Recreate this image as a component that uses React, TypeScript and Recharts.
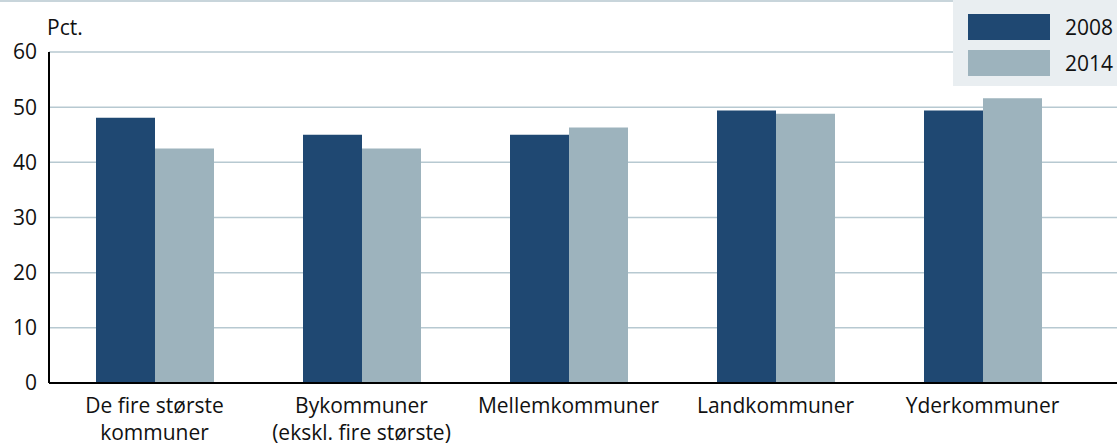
import React from 'react';
import { BarChart, Bar, XAxis, YAxis, CartesianGrid } from 'recharts';

const categories = [
  'De fire største\nkommuner',
  'Bykommuner\n(ekskl. fire største)',
  'Mellemkommuner',
  'Landkommuner',
  'Yderkommuner',
];
const values2008 = [48.1, 45.0, 45.0, 49.4, 49.4];
const values2014 = [42.5, 42.5, 46.3, 48.8, 51.6];
const yTicks = [0, 10, 20, 30, 40, 50, 60];
const seriesNames = ['2008', '2014'];

const DARK = '#1f4872';
const LIGHT = '#9db3bd';
const FONT = '"Open Sans", "Noto Sans", sans-serif';
const FS = 21;

const data = categories.map((name, i) => ({
  name,
  y2008: values2008[i],
  y2014: values2014[i],
}));

function CategoryTick(props: any) {
  const { x, y, payload } = props;
  const lines = String(payload.value).split('\n');
  return (
    <g transform={`translate(${x},${y})`}>
      {lines.map((line, i) => (
        <text
          key={i}
          x={0}
          y={i * 27}
          dy={22}
          textAnchor="middle"
          fill="#111"
          fontSize={FS}
          fontFamily={FONT}
        >
          {line}
        </text>
      ))}
    </g>
  );
}

function LegendBox() {
  const colors = [DARK, LIGHT];
  return (
    <div
      style={{
        position: 'absolute',
        top: 0,
        right: 0,
        background: '#e9eef1',
        width: 164,
        height: 86,
        paddingTop: 14,
        boxSizing: 'border-box',
      }}
    >
      {seriesNames.map((label, i) => (
        <div key={label} style={{ display: 'flex', alignItems: 'center', height: 26, marginBottom: 10 }}>
          <div style={{ width: 82, height: 26, background: colors[i], marginLeft: 15 }} />
          <span style={{ marginLeft: 15, fontSize: FS, fontFamily: FONT, color: '#111' }}>{label}</span>
        </div>
      ))}
    </div>
  );
}

export default function App() {
  return (
    <div style={{ position: 'absolute', left: 0, top: 0, width: 1117, height: 445, background: '#fff' }}>
      <div style={{ position: 'absolute', left: 0, top: 0, width: 1117, height: 2, background: '#c8d5db' }} />
      <BarChart
        width={1117}
        height={445}
        data={data}
        margin={{ top: 52, right: 0, left: 0, bottom: 0 }}
        barGap={0}
        barSize={59}
      >
        <CartesianGrid vertical={false} stroke="#b7c9d1" strokeWidth={1.5} />
        <XAxis
          dataKey="name"
          height={62}
          interval={0}
          tick={<CategoryTick />}
          tickLine={false}
          axisLine={{ stroke: '#000', strokeWidth: 2 }}
          padding={{ left: 2, right: 31 }}
        />
        <YAxis
          domain={[0, 60]}
          ticks={yTicks}
          width={49}
          tickLine={false}
          axisLine={{ stroke: '#000', strokeWidth: 2 }}
          tick={{ fill: '#111', fontSize: FS, fontFamily: FONT, dx: -4 }}
          label={{
            content: (p: any) => (
              <text
                x={p.viewBox.x + p.viewBox.width - 2}
                y={p.viewBox.y - 17}
                fill="#111"
                fontSize={FS}
                fontFamily={FONT}
              >
                Pct.
              </text>
            ),
          }}
        />
        <Bar dataKey="y2008" name={seriesNames[0]} fill={DARK} isAnimationActive={false} />
        <Bar dataKey="y2014" name={seriesNames[1]} fill={LIGHT} isAnimationActive={false} />
      </BarChart>
      <LegendBox />
    </div>
  );
}
